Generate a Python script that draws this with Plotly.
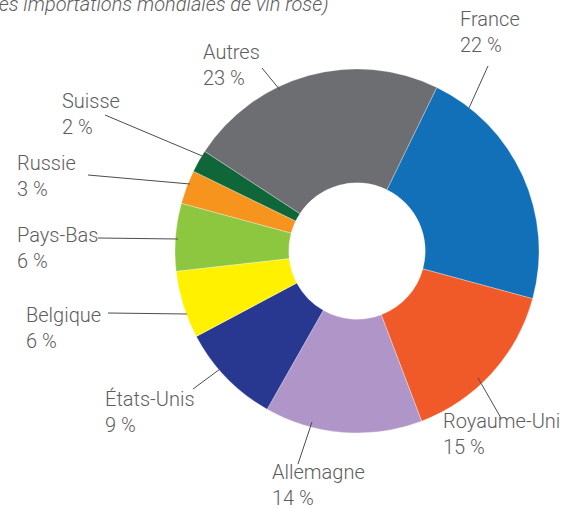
import plotly.graph_objects as go

W, H = 575, 509

countries = ["France", "Royaume-Uni", "Allemagne", "États-Unis", "Belgique",
             "Pays-Bas", "Russie", "Suisse", "Autres"]
shares = [22, 15, 14, 9, 6, 6, 3, 2, 23]
colors = ["#1170b8", "#f05a28", "#b095c8", "#283891", "#fff100",
          "#8dc63f", "#f7941d", "#0f6638", "#6d6e71"]
title_text = "(en % des importations mondiales de vin rosé)"

# label layout (pixels): left x, vertical middle of two-line block
label_pos = {
    "France": (458, 32), "Royaume-Uni": (441, 434), "Allemagne": (270, 485),
    "États-Unis": (103, 412), "Belgique": (24, 328), "Pays-Bas": (15, 248),
    "Russie": (15, 176), "Suisse": (60, 114), "Autres": (201, 65),
}
# leader lines (pixels): slice end -> label end
leaders = {
    "France": ((469, 108), (488, 66)),
    "Royaume-Uni": ((478, 378), (501, 418)),
    "Allemagne": ((312, 422), (298, 464)),
    "États-Unis": ((220, 369), (193, 389)),
    "Belgique": ((187, 314), (108, 313)),
    "Pays-Bas": ((178, 239), (98, 238)),
    "Russie": ((190, 184), (88, 175)),
    "Suisse": ((207, 158), (105, 115)),
    "Autres": ((280, 90), (262, 68)),
}

def px(x):
    return x / W

def py(y):
    return 1 - y / H

cx, cy, r = 357, 251, 182

fig = go.Figure(go.Pie(
    labels=countries, values=shares, sort=False, direction="clockwise",
    rotation=26, hole=0.375, textinfo="none",
    marker=dict(colors=colors, line=dict(color="rgba(255,255,255,0.6)", width=0.5)),
    domain=dict(x=[px(cx - r), px(cx + r)], y=[py(cy + r), py(cy - r)]),
    showlegend=False,
))

font = dict(family="'Roboto Light', Roboto, 'Open Sans', sans-serif", size=20,
            color="#5d5e60", weight=300)

annotations = []
for name, val in zip(countries, shares):
    lx, ly = label_pos[name]
    annotations.append(dict(
        x=px(lx), y=py(ly), xref="paper", yref="paper", xanchor="left", yanchor="middle",
        text=f"{name}<br>{val} %", showarrow=False, align="left", font=font,
    ))
annotations.append(dict(
    x=px(331), y=py(4), xref="paper", yref="paper", xanchor="right", yanchor="middle",
    text=f"<i>{title_text}</i>", showarrow=False, font=font,
))

shapes = []
for name in countries:
    (x0, y0), (x1, y1) = leaders[name]
    shapes.append(dict(type="line", xref="paper", yref="paper",
                       x0=px(x0), y0=py(y0), x1=px(x1), y1=py(y1),
                       line=dict(color="#4d4d4f", width=1)))

fig.update_layout(
    width=W, height=H, margin=dict(l=0, r=0, t=0, b=0),
    paper_bgcolor="white", plot_bgcolor="white",
    annotations=annotations, shapes=shapes,
)

fig.write_html("out.html", config={"displayModeBar": False},
               post_script="document.body.style.margin='0';")
